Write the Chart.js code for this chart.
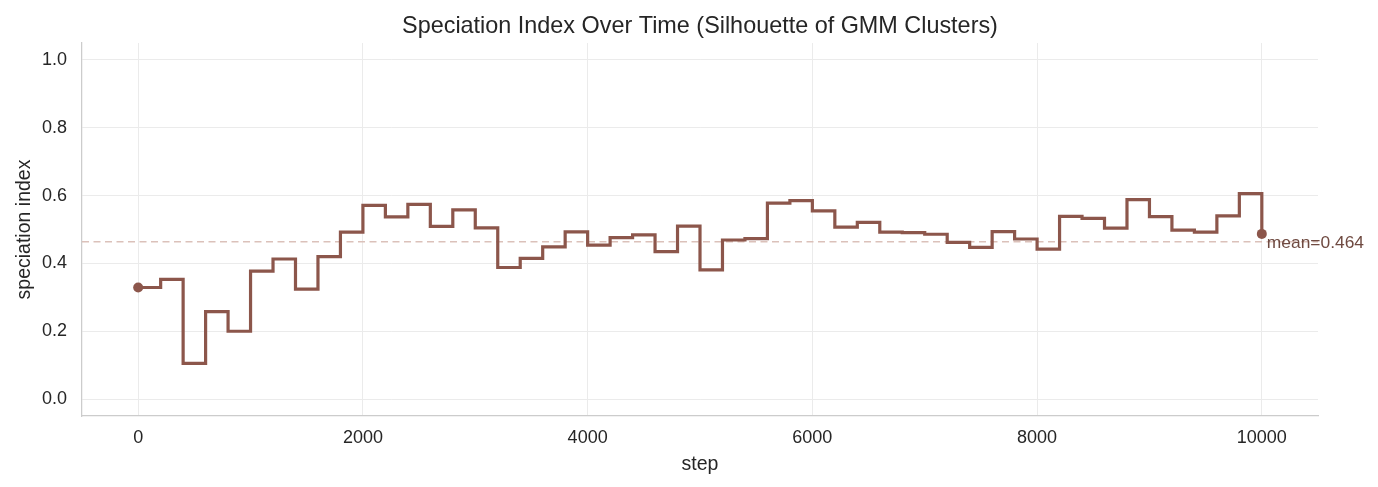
<!DOCTYPE html>
<html><head><meta charset="utf-8">
<script src="https://cdn.jsdelivr.net/npm/chart.js@4.4.1/dist/chart.umd.min.js"></script>
<style>html,body{margin:0;padding:0;background:#fff;overflow:hidden}</style>
</head><body>
<canvas id="c" width="1378" height="487"></canvas>
<script>
const steps = [0,200,400,600,800,1000,1200,1400,1600,1800,2000,2200,2400,2600,2800,3000,3200,3400,3600,3800,4000,4200,4400,4600,4800,5000,5200,5400,5600,5800,6000,6200,6400,6600,6800,7000,7200,7400,7600,7800,8000,8200,8400,8600,8800,9000,9200,9400,9600,9800,10000];
const speciation = [0.329,0.353,0.105,0.258,0.200,0.377,0.413,0.324,0.420,0.492,0.571,0.537,0.574,0.509,0.558,0.505,0.388,0.415,0.449,0.493,0.454,0.476,0.484,0.435,0.510,0.381,0.469,0.473,0.578,0.585,0.555,0.507,0.521,0.492,0.491,0.486,0.462,0.447,0.494,0.472,0.442,0.539,0.533,0.504,0.588,0.538,0.498,0.492,0.540,0.606,0.487];
const meanValue = 0.464;
const xTicks = [0,2000,4000,6000,8000,10000];
const yTicks = [0.0,0.2,0.4,0.6,0.8,1.0];
const xRange = [-500,10500];
const yRange = [-0.05,1.05];
const titleText = 'Speciation Index Over Time (Silhouette of GMM Clusters)';

const FONT = '"Liberation Sans", Arial, sans-serif';
const TXT = '#262626';
const BROWN = '#8c564b';

const mainData = steps.map((s,i)=>({x:s,y:speciation[i]}));
const meanData = xRange.map(x=>({x:x,y:meanValue}));
const last = steps.length-1;

const extras = {
  id:'extras',
  afterDatasetsDraw(chart){
    const {ctx, chartArea, scales:{x,y}} = chart;
    ctx.save();
    ctx.font = '17.4px ' + FONT;
    ctx.fillStyle = '#6f4a41';
    ctx.textAlign = 'left';
    ctx.textBaseline = 'alphabetic';
    ctx.fillText('mean=' + meanValue.toFixed(3), x.getPixelForValue(steps[last]) + 5, y.getPixelForValue(meanValue) + 6.5);
    ctx.font = '23.4px ' + FONT;
    ctx.fillStyle = TXT;
    ctx.textAlign = 'center';
    ctx.fillText(titleText, (chartArea.left + chartArea.right)/2, 32.5);
    ctx.restore();
  }
};

new Chart(document.getElementById('c'), {
  type:'line',
  data:{datasets:[
    {data:mainData, borderColor:BROWN, backgroundColor:BROWN, borderWidth:3.2, stepped:'before',
     pointRadius:(c)=> (c.dataIndex===0||c.dataIndex===last)?5:0, pointHoverRadius:0, pointBorderWidth:0, fill:false},
    {data:meanData, borderColor:'#dbc1ba', borderWidth:1.6, borderDash:[7,4.5], pointRadius:0, fill:false}
  ]},
  options:{
    responsive:false, animation:false, devicePixelRatio:1,
    layout:{padding:{left:0,right:60,top:43,bottom:0}},
    plugins:{
      legend:{display:false}, tooltip:{enabled:false}, title:{display:false}
    },
    scales:{
      x:{type:'linear', min:xRange[0], max:xRange[1],
        afterBuildTicks:(s)=>{s.ticks = xTicks.map(v=>({value:v}));},
        afterFit:(s)=>{s.height = 71;},
        ticks:{color:TXT, font:{family:FONT,size:18}, padding:11, callback:(v)=>String(v), maxRotation:0, autoSkip:false},
        grid:{color:'#ebebeb', lineWidth:1, drawTicks:false},
        border:{color:'#cccccc', width:1.25},
        title:{display:true, text:'step', color:TXT, font:{family:FONT,size:19.5}, padding:{top:0,bottom:11}}
      },
      y:{type:'linear', min:yRange[0], max:yRange[1],
        afterBuildTicks:(s)=>{s.ticks = yTicks.map(v=>({value:v}));},
        afterFit:(s)=>{s.width = 82;},
        ticks:{color:TXT, font:{family:FONT,size:18}, padding:15, callback:(v)=>v.toFixed(1), autoSkip:false},
        grid:{color:'#ebebeb', lineWidth:1, drawTicks:false},
        border:{color:'#cccccc', width:1.25},
        title:{display:true, text:'speciation index', color:TXT, font:{family:FONT,size:19.5}, padding:{top:13,bottom:0}}
      }
    }
  },
  plugins:[extras]
});
</script>
</body></html>
